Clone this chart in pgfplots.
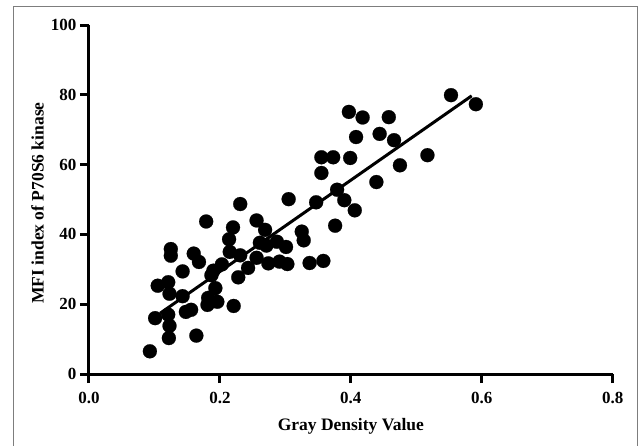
\documentclass[border=0pt]{standalone}
\usepackage{fontspec}
\setmainfont{Liberation Serif}
\usepackage{pgfplots}
\pgfplotsset{compat=1.18}

\begin{document}
\begin{tikzpicture}
% page = 640 x 445 pt, axis origin at (0,0)
\useasboundingbox (-89pt,-71pt) rectangle (551pt,374pt);
\fill[white] (-89pt,-71pt) rectangle (551pt,374pt);
\draw[line width=1pt, color={rgb,255:red,125;green,125;blue,125}]
    (-75pt,-72pt) -- (-75pt,367pt) -- (548pt,367pt) -- (548pt,-72pt);

\begin{axis}[
    scale only axis,
    width=523.7pt,
    height=349pt,
    xmin=0, xmax=0.8,
    ymin=0, ymax=100,
    enlargelimits=false,
    clip=false,
    axis lines=left,
    axis line style={-, line width=3pt},
    tick align=outside,
    major tick length=9pt,
    major tick style={line width=3pt, black},
    xtick={0,0.2,0.4,0.6,0.8},
    ytick={0,20,40,60,80,100},
    xticklabel style={yshift=-6pt,
        /pgf/number format/fixed,
        /pgf/number format/fixed zerofill,
        /pgf/number format/precision=1},
    /pgf/number format/assume math mode=true,
    ticklabel style={font=\bfseries\fontsize{17}{17}\selectfont},
    xlabel={Gray Density Value},
    ylabel={MFI index of P70S6 kinase},
    label style={font=\bfseries\fontsize{17.5}{17.5}\selectfont},
    xlabel style={at={(axis description cs:0.5,-0.151)}, anchor=center},
    ylabel style={at={(axis description cs:-0.0983,0.49)}, anchor=center},
]

\addplot[only marks, mark=*, mark size=7pt,
         mark options={fill=black, draw=black, line width=0.2pt}] coordinates {
    (0.093,6.5) (0.101,16.0) (0.105,25.3) (0.121,26.3) (0.123,23.0)
    (0.121,17.0) (0.123,13.8) (0.122,10.3) (0.125,35.8) (0.125,33.9)
    (0.143,29.4) (0.143,22.3) (0.148,17.8) (0.156,18.4) (0.160,34.5)
    (0.168,32.1) (0.164,11.0) (0.179,43.7) (0.182,21.8) (0.181,19.8)
    (0.187,28.3) (0.190,29.6) (0.193,24.6) (0.196,20.7) (0.203,31.4)
    (0.214,38.6) (0.220,42.0) (0.215,35.0) (0.221,19.5) (0.228,27.7)
    (0.231,48.7) (0.231,34.0) (0.243,30.4) (0.256,33.3) (0.256,44.0)
    (0.261,37.6) (0.269,41.3) (0.271,36.8) (0.274,31.7) (0.287,37.9)
    (0.291,32.2) (0.301,36.4) (0.303,31.5) (0.305,50.1)
    (0.325,40.8) (0.328,38.3) (0.337,31.8) (0.347,49.2) (0.355,62.1)
    (0.355,57.6) (0.358,32.4) (0.373,62.1) (0.376,42.5) (0.379,52.8)
    (0.390,49.8) (0.397,75.1) (0.399,61.9) (0.406,46.9) (0.408,67.9)
    (0.418,73.5) (0.439,55.0) (0.444,68.8) (0.458,73.6) (0.466,67.0)
    (0.475,59.8) (0.517,62.7) (0.553,79.9) (0.591,77.3)
};

% regression line
\addplot[black, line width=3pt] coordinates {(0.1086,17.4) (0.5846,79.7)};

\end{axis}
\end{tikzpicture}
\end{document}
